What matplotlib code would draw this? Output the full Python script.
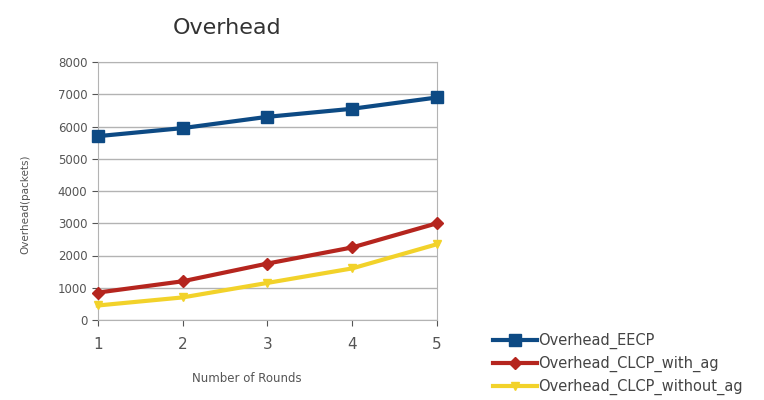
import matplotlib.pyplot as plt

# Data
rounds = [1, 2, 3, 4, 5]
overhead_eecp = [5700, 5950, 6300, 6550, 6900]
overhead_clcp_with_ag = [850, 1200, 1750, 2250, 3000]
overhead_clcp_without_ag = [450, 700, 1150, 1600, 2350]

labels = ['Overhead_EECP', 'Overhead_CLCP_with_ag', 'Overhead_CLCP_without_ag']
colors = ['#0d4a84', '#b5251e', '#f2d22a']
markers = ['s', 'D', 'v']

fig = plt.figure(figsize=(7.64, 4), dpi=100)
ax = fig.add_axes([0.128, 0.2, 0.444, 0.645])

series = [overhead_eecp, overhead_clcp_with_ag, overhead_clcp_without_ag]
handles = []
for vals, lab, col, mk in zip(series, labels, colors, markers):
    h, = ax.plot(rounds, vals, color=col, marker=mk, linewidth=3,
                 markersize=8 if mk == 's' else 6, label=lab, clip_on=False, zorder=3)
    handles.append(h)

ax.set_xlim(1, 5)
ax.set_ylim(0, 8000)
ax.set_xticks(rounds)
ax.set_yticks(range(0, 8001, 1000))
ax.grid(axis='y', color='#b3b3b3', linewidth=1)
ax.set_axisbelow(True)

for s in ax.spines.values():
    s.set_color('#b3b3b3')

ax.tick_params(colors='#555555', labelsize=8.5, length=4)
ax.tick_params(axis='x', labelsize=11, pad=8)

# Title sits left of the axes centre in the original
fig.text(0.297, 0.93, 'Overhead', fontsize=16, color='#333333', ha='center', va='center')
ax.set_xlabel('Number of Rounds', fontsize=8.5, color='#555555')
ax.xaxis.set_label_coords(0.44, -0.2)
ax.set_ylabel('Overhead(packets)', fontsize=7.5, color='#555555')
ax.yaxis.set_label_coords(-0.2, 0.45)

fig.legend(handles, labels, loc='lower left', bbox_to_anchor=(0.628, -0.02),
           frameon=False, fontsize=10.5, handlelength=3.0, labelspacing=0.45,
           handletextpad=0.1, labelcolor='#444444')

fig.savefig('out.png', dpi=100)
